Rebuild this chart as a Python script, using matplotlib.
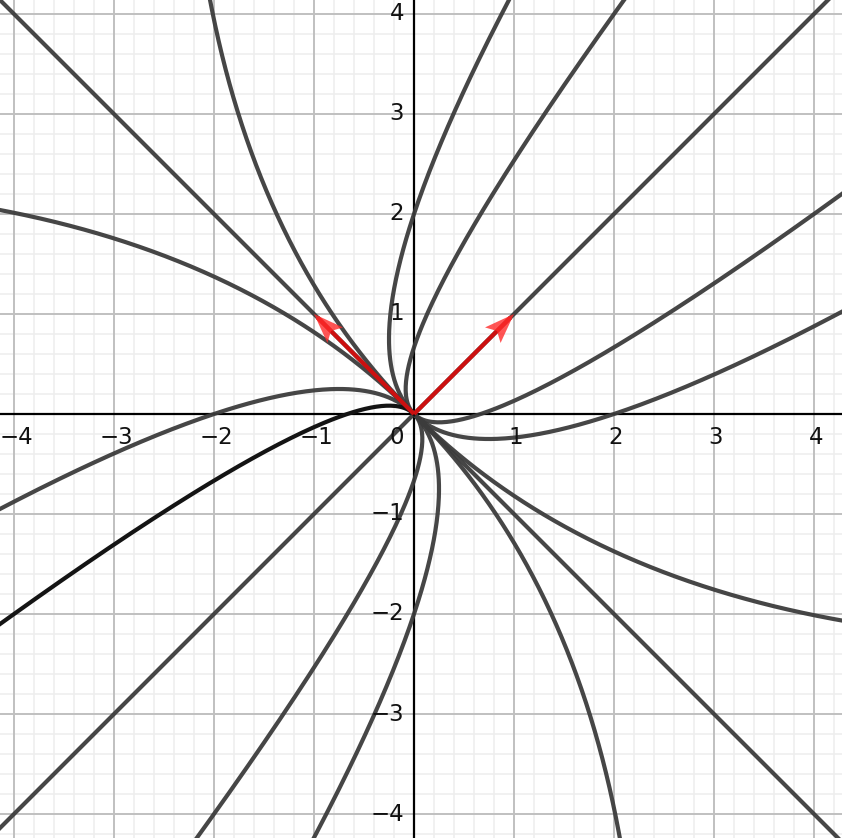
import numpy as np
import matplotlib.pyplot as plt
from matplotlib.patches import Polygon

# trajectories u = k * w^2 in eigen-coordinates (v1 = (1,1), v2 = (-1,1))
ks = [3.0, 1.0, 0.11, -0.11, -1.0, -3.0]
highlight = (-3.0, 1)  # (k, sign of w) drawn darker
eigvecs = [(1, 1), (-1, 1)]
ticks = [-4, -3, -2, -1, 1, 2, 3, 4]

xlim = (-4.14, 4.28)
ylim = (-4.24, 4.14)

fig = plt.figure(figsize=(8.42, 8.38), dpi=100)
ax = fig.add_axes([0, 0, 1, 1])
ax.set_xlim(*xlim)
ax.set_ylim(*ylim)
ax.axis("off")

# grid
for g in np.arange(-5, 5.01, 0.2):
    if abs(g - round(g)) < 1e-6:
        continue
    ax.axvline(g, color="#eeeeee", lw=1.1, zorder=0)
    ax.axhline(g, color="#eeeeee", lw=1.1, zorder=0)
for g in range(-5, 6):
    ax.axvline(g, color="#c0c0c0", lw=1.4, zorder=0.5)
    ax.axhline(g, color="#c0c0c0", lw=1.4, zorder=0.5)
ax.axvline(0, color="black", lw=1.6, zorder=1)
ax.axhline(0, color="black", lw=1.6, zorder=1)

# eigen lines
t = np.linspace(-6, 6, 10)
ax.plot(t, t, color="#3c3c3c", lw=3, alpha=0.95, zorder=2)
ax.plot(t, -t, color="#3c3c3c", lw=3, alpha=0.95, zorder=2)

# curved trajectories
for k in ks:
    for s in (1, -1):
        w = s * np.linspace(0, 6, 800)
        u = k * w ** 2
        x = u - w
        y = u + w
        if (k, s) == highlight:
            ax.plot(x, y, color="#141414", lw=3, zorder=3)
        else:
            ax.plot(x, y, color="#3c3c3c", lw=3, alpha=0.95, zorder=2)

# eigenvector arrows: shaft + translucent notched head
head_len, head_hw, notch = 0.3, 0.11, 0.06
for vx, vy in eigvecs:
    v = np.array([vx, vy], float)
    d = v / np.linalg.norm(v)
    n = np.array([-d[1], d[0]])
    ax.plot([0, vx - d[0] * 0.05], [0, vy - d[1] * 0.05], color="#cc1010", lw=3,
            solid_capstyle="butt", zorder=4)
    base = v - d * head_len
    pts = [v, base + n * head_hw, base + d * notch, base - n * head_hw]
    ax.add_patch(Polygon(pts, closed=True, facecolor="#ff2a2a", alpha=0.8,
                         edgecolor="none", zorder=5))

# axis labels
def lab(v):
    return "\u2212" + str(-v) if v < 0 else str(v)

for v in ticks:
    ax.text(v + 0.02, -0.23, lab(v), ha="center", va="center",
            fontsize=16.5, color="#111", zorder=6)
    ax.text(-0.1, v, lab(v), ha="right", va="center",
            fontsize=16.5, color="#111", zorder=6)
ax.text(-0.1, -0.23, "0", ha="right", va="center", fontsize=16.5, color="#111", zorder=6)

fig.savefig("out.png", dpi=100)
